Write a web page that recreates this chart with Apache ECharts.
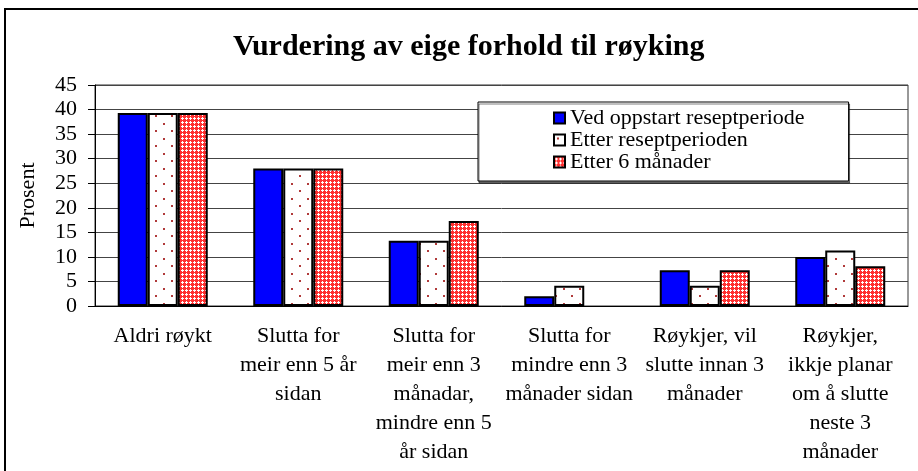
<!DOCTYPE html>
<html>
<head>
<meta charset="utf-8">
<script src="https://cdn.jsdelivr.net/npm/echarts@6/dist/echarts.min.js"></script>
<style>
  html, body { margin: 0; padding: 0; background: #fff; }
  #chart { width: 918px; height: 471px; }
</style>
</head>
<body>
<div id="chart"></div>
<script>
const categories = [
  'Aldri røykt',
  'Slutta for\nmeir enn 5 år\nsidan',
  'Slutta for\nmeir enn 3\nmånadar,\nmindre enn 5\når sidan',
  'Slutta for\nmindre enn 3\nmånader sidan',
  'Røykjer, vil\nslutte innan 3\nmånader',
  'Røykjer,\nikkje planar\nom å slutte\nneste 3\nmånader'
];
const seriesNames = ['Ved oppstart reseptperiode', 'Etter reseptperioden', 'Etter 6 månader'];
const vedOppstart = [39.3, 28.0, 13.3, 2.0, 7.3, 10.0];
const etterResept = [39.3, 28.0, 13.3, 4.1, 4.1, 11.3];
const etter6 = [39.3, 28.0, 17.3, 0, 7.3, 8.1];

const serif = '"Liberation Serif", "Times New Roman", serif';

// dotted fill: white with small dark red dots
const makeDots = () => {
  const c = document.createElement('canvas');
  c.width = 16; c.height = 15;
  const g = c.getContext('2d');
  g.fillStyle = '#fff';
  g.fillRect(0, 0, 16, 15);
  g.fillStyle = '#b03a3a';
  g.fillRect(3, 3, 2, 2);
  g.fillRect(11, 10, 2, 2);
  return c;
};
// red fill with small white crosses
const makeCross = () => {
  const c = document.createElement('canvas');
  c.width = 4; c.height = 4;
  const g = c.getContext('2d');
  g.fillStyle = '#ff3030';
  g.fillRect(0, 0, 4, 4);
  g.fillStyle = '#ffffff';
  g.fillRect(2, 1, 1, 3);
  g.fillRect(1, 2, 3, 1);
  return c;
};

const fills = [
  '#0000ff',
  { image: makeDots(), repeat: 'repeat' },
  { image: makeCross(), repeat: 'repeat' }
];
const data = [vedOppstart, etterResept, etter6];

const chart = echarts.init(document.getElementById('chart'));
chart.setOption({
  backgroundColor: '#fff',
  animation: false,
  graphic: [{
    type: 'rect',
    shape: { x: 5, y: 9, width: 1000, height: 1000 },
    style: { fill: 'none', stroke: '#000', lineWidth: 2 },
    silent: true
  }],
  title: {
    text: 'Vurdering av eige forhold til røyking',
    left: 228,
    top: 27,
    textStyle: { fontFamily: serif, fontWeight: 'bold', fontSize: 30, color: '#000' }
  },
  legend: {
    orient: 'vertical',
    left: 478,
    top: 102,
    padding: [5, 44, 8, 75],
    backgroundColor: '#fff',
    borderColor: '#000',
    borderWidth: 1,
    shadowColor: 'rgba(0,0,0,0.5)',
    shadowOffsetX: 1,
    shadowOffsetY: 2,
    shadowBlur: 0,
    itemWidth: 11,
    itemHeight: 11,
    itemGap: 0,
    icon: 'rect',
    textStyle: { fontFamily: serif, fontSize: 22, lineHeight: 22, color: '#000' },
    data: seriesNames
  },
  grid: {
    left: 95,
    right: 10,
    top: 85,
    bottom: 165,
    outerBoundsMode: 'none',
    show: true,
    borderColor: '#333',
    borderWidth: 1
  },
  xAxis: {
    type: 'category',
    data: categories,
    axisLine: { lineStyle: { color: '#000', width: 1 } },
    axisTick: { length: 6, lineStyle: { color: '#000' } },
    axisLabel: {
      interval: 0,
      margin: 16,
      fontFamily: serif,
      fontSize: 22,
      lineHeight: 29,
      color: '#000'
    }
  },
  yAxis: {
    type: 'value',
    min: 0,
    max: 45,
    interval: 5,
    name: 'Prosent',
    nameLocation: 'middle',
    nameRotate: 90,
    nameGap: 56,
    nameTextStyle: { fontFamily: serif, fontSize: 22, color: '#000' },
    axisLine: { show: true, lineStyle: { color: '#000' } },
    axisTick: { show: true, length: 7, lineStyle: { color: '#000' } },
    axisLabel: { margin: 18, fontFamily: serif, fontSize: 22, color: '#000' },
    splitLine: { lineStyle: { color: '#444', width: 1 } }
  },
  series: seriesNames.map((name, i) => ({
    name: name,
    type: 'bar',
    // a zero bar is not drawn in the original
    data: data[i].map(v => (v === 0 ? '-' : v)),
    barWidth: 30,
    barGap: '0%',
    itemStyle: { color: fills[i], borderColor: '#000', borderWidth: 2 }
  }))
});
</script>
</body>
</html>
